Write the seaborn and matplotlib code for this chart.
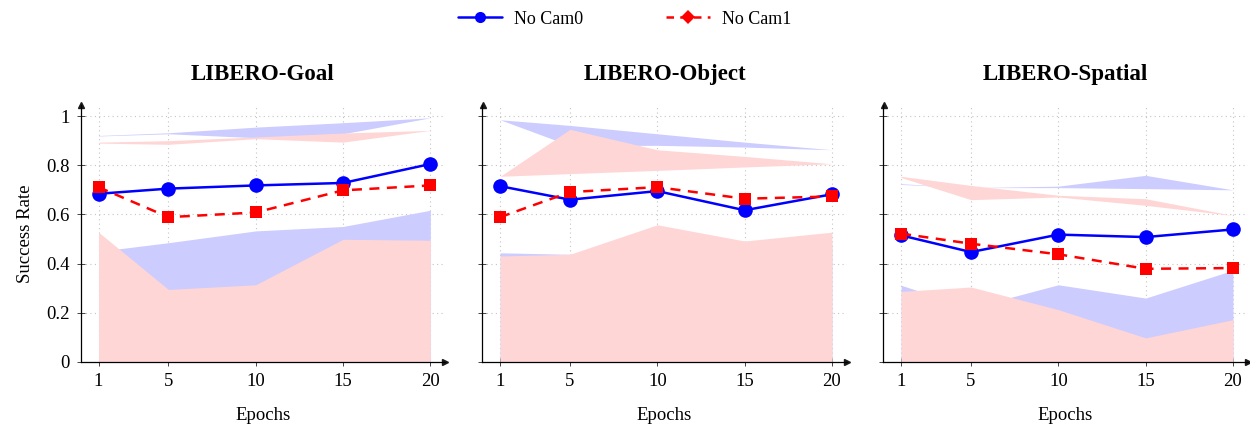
import matplotlib
matplotlib.use("Agg")
import matplotlib.pyplot as plt
from matplotlib.lines import Line2D
import seaborn as sns

# epochs on the x axis
epochs = [1, 5, 10, 15, 20]

# LIBERO-Goal
goal_cam0 = [0.684, 0.705, 0.718, 0.728, 0.805]
goal_cam1 = [0.711, 0.589, 0.608, 0.698, 0.718]
goal_cam0_low = [0.45, 0.485, 0.533, 0.551, 0.617]
goal_cam1_low = [0.528, 0.295, 0.314, 0.499, 0.495]
goal_cam0_band_lo = [0.919, 0.928, 0.912, 0.928, 0.993]
goal_cam0_band_hi = [0.921, 0.932, 0.955, 0.973, 0.993]
goal_cam1_band_lo = [0.890, 0.885, 0.908, 0.894, 0.942]
goal_cam1_band_hi = [0.894, 0.900, 0.915, 0.931, 0.942]

# LIBERO-Object
obj_cam0 = [0.715, 0.660, 0.695, 0.617, 0.682]
obj_cam1 = [0.589, 0.691, 0.711, 0.664, 0.673]
obj_cam0_low = [0.444, 0.438, 0.50, 0.45, 0.48]
obj_cam1_low = [0.431, 0.438, 0.558, 0.492, 0.528]
obj_cam0_band_lo = [0.985, 0.880, 0.881, 0.874, 0.863]
obj_cam0_band_hi = [0.985, 0.962, 0.928, 0.894, 0.863]
obj_cam1_band_lo = [0.755, 0.766, 0.779, 0.793, 0.806]
obj_cam1_band_hi = [0.755, 0.946, 0.863, 0.836, 0.806]

# LIBERO-Spatial
sp_cam0 = [0.515, 0.447, 0.518, 0.508, 0.539]
sp_cam1 = [0.522, 0.481, 0.438, 0.379, 0.382]
sp_cam0_low = [0.312, 0.22, 0.314, 0.26, 0.373]
sp_cam1_low = [0.287, 0.305, 0.213, 0.098, 0.172]
sp_cam0_band_lo = [0.722, 0.709, 0.709, 0.705, 0.700]
sp_cam0_band_hi = [0.725, 0.709, 0.715, 0.759, 0.700]
sp_cam1_band_lo = [0.750, 0.660, 0.671, 0.637, 0.596]
sp_cam1_band_hi = [0.755, 0.718, 0.678, 0.664, 0.596]

titles = ["LIBERO-Goal", "LIBERO-Object", "LIBERO-Spatial"]
panels = [
    (goal_cam0, goal_cam1, goal_cam0_low, goal_cam1_low,
     goal_cam0_band_lo, goal_cam0_band_hi, goal_cam1_band_lo, goal_cam1_band_hi),
    (obj_cam0, obj_cam1, obj_cam0_low, obj_cam1_low,
     obj_cam0_band_lo, obj_cam0_band_hi, obj_cam1_band_lo, obj_cam1_band_hi),
    (sp_cam0, sp_cam1, sp_cam0_low, sp_cam1_low,
     sp_cam0_band_lo, sp_cam0_band_hi, sp_cam1_band_lo, sp_cam1_band_hi),
]

sns.set_theme(style="white")
plt.rcParams["font.family"] = ["Liberation Serif", "DejaVu Serif"]
plt.rcParams["text.color"] = "black"
plt.rcParams["axes.labelcolor"] = "black"
plt.rcParams["xtick.color"] = "black"
plt.rcParams["ytick.color"] = "black"

BLUE_FILL = "#ccccff"
RED_FILL = "#ffd6d6"

fig = plt.figure(figsize=(12.5, 4.25), dpi=100)
lefts = [80.7, 482.3, 883.3]
width = 364.5
bottom = (425 - 362) / 425
height = (362 - 105) / 425

for i, (title, data) in enumerate(zip(titles, panels)):
    c0, c1, c0_low, c1_low, c0_lo, c0_hi, c1_lo, c1_hi = data
    ax = fig.add_axes([lefts[i] / 1250, bottom, width / 1250, height])

    # shaded areas (opaque, red drawn over blue)
    ax.fill_between(epochs, 0, c0_low, color=BLUE_FILL, lw=0, zorder=1)
    ax.fill_between(epochs, c0_lo, c0_hi, color=BLUE_FILL, lw=0, zorder=1)
    ax.fill_between(epochs, 0, c1_low, color=RED_FILL, lw=0, zorder=1.1)
    ax.fill_between(epochs, c1_lo, c1_hi, color=RED_FILL, lw=0, zorder=1.1)

    sns.lineplot(x=epochs, y=c0, ax=ax, color="blue", marker="o", markersize=10.5,
                 markeredgewidth=0, linewidth=1.8, zorder=3)
    sns.lineplot(x=epochs, y=c1, ax=ax, color="red", marker="s", markersize=9,
                 markeredgewidth=0, linewidth=1.8, linestyle=(0, (4, 3)), zorder=3)

    ax.set_xlim(-0.02, 20.85)
    ax.set_ylim(0, 1.045)
    ax.set_xticks(epochs)
    ax.set_yticks([0, 0.2, 0.4, 0.6, 0.8, 1.0])
    if i == 0:
        ax.set_yticklabels(["0", "0.2", "0.4", "0.6", "0.8", "1"])
        ax.set_ylabel("Success Rate", fontsize=13.5, labelpad=9)
    else:
        ax.set_yticklabels([])
    ax.set_xlabel("Epochs", fontsize=13.5, labelpad=12)
    ax.set_title(title, fontsize=16.5, fontweight="bold", pad=18)
    ax.tick_params(axis="both", labelsize=13.5, direction="inout", length=6,
                   width=0.7, color="#444444", left=True, bottom=True, pad=5)

    ax.grid(True, linestyle=(0, (1, 3)), color="#c4c4c4", linewidth=0.8, zorder=0)
    ax.set_axisbelow(True)
    for s in ["top", "right"]:
        ax.spines[s].set_visible(False)
    for s in ["left", "bottom"]:
        ax.spines[s].set_color("black")
        ax.spines[s].set_linewidth(0.9)
    ax.plot(1, 0, ">k", markersize=5, transform=ax.get_yaxis_transform(), clip_on=False)
    ax.plot(0, 1, "^k", markersize=5, transform=ax.get_xaxis_transform(), clip_on=False)
    if ax.get_legend() is not None:
        ax.get_legend().remove()

handles = [
    Line2D([], [], color="blue", marker="o", markersize=8, markeredgewidth=0, linewidth=1.8),
    Line2D([], [], color="red", marker="D", markersize=7, markeredgewidth=0, linewidth=1.8,
           linestyle=(0, (3, 2.5))),
]
fig.legend(handles, ["No Cam0", "No Cam1"], loc="center", bbox_to_anchor=(0.5, 0.955),
           ncol=2, frameon=False, fontsize=13, handlelength=2.4, handletextpad=0.7,
           columnspacing=4.6)

fig.savefig("out.png", dpi=100)
